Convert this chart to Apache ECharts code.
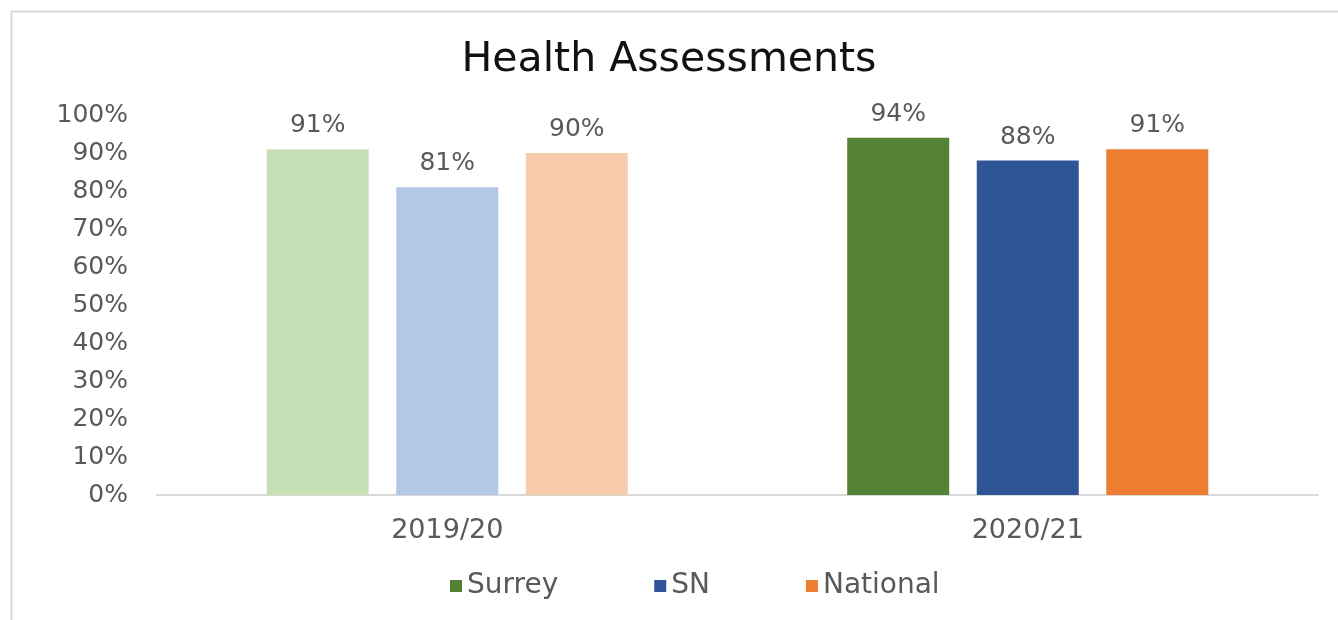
<!DOCTYPE html>
<html>
<head>
<meta charset="utf-8">
<script src="https://cdn.jsdelivr.net/npm/echarts@6/dist/echarts.min.js"></script>
<style>
  html, body { margin: 0; padding: 0; background: #fff; }
  #chart { width: 1338px; height: 620px; }
</style>
</head>
<body>
<div id="chart"></div>
<script>
// data
const categories = ['2019/20', '2020/21']
const seriesNames = ['Surrey', 'SN', 'National']
const surrey = [91, 94]
const sn = [81, 88]
const national = [90, 91]
const yTicks = [0, 10, 20, 30, 40, 50, 60, 70, 80, 90, 100]

// first year is drawn in a paler tint of each colour
const darkColors = ['#548235', '#2f5597', '#ed7d31']
const paleColors = ['#c5e0b4', '#b4c7e7', '#f8cbad']

const font = 'DejaVu Sans'
const grey = '#595959'

const chartDom = document.getElementById('chart')
const myChart = echarts.init(chartDom)

const makeSeries = (name, values, idx) => ({
  name: name,
  type: 'bar',
  barWidth: 102,
  barGap: '27%',
  itemStyle: { color: darkColors[idx] },
  label: {
    show: true,
    position: 'top',
    distance: 11,
    color: grey,
    fontFamily: font,
    fontSize: 25,
    formatter: p => p.value + '%'
  },
  data: values.map((v, i) => i === 0
    ? { value: v, itemStyle: { color: paleColors[idx] } }
    : { value: v })
})

const option = {
  animation: false,
  backgroundColor: '#fff',
  graphic: [{
    type: 'rect',
    left: 9, top: 9,
    shape: { width: 1400, height: 700 },
    style: { fill: 'none', stroke: '#d9d9d9', lineWidth: 2 }
  }],
  title: {
    text: 'Health Assessments',
    left: 'center',
    top: 35,
    textStyle: { fontFamily: font, fontSize: 41, fontWeight: 'normal', color: '#111' }
  },
  legend: {
    bottom: 15,
    left: 445,
    itemWidth: 12,
    itemHeight: 12,
    itemGap: 96,
    icon: 'rect',
    textStyle: { fontFamily: font, fontSize: 28, color: grey },
    data: seriesNames
  },
  grid: { left: 157, right: 20, top: 115, bottom: 125 },
  xAxis: {
    type: 'category',
    data: categories,
    axisLine: { lineStyle: { color: '#d9d9d9', width: 2 } },
    axisTick: { show: false },
    axisLabel: { fontFamily: font, fontSize: 27, color: grey, margin: 22 }
  },
  yAxis: {
    type: 'value',
    min: yTicks[0],
    max: yTicks[yTicks.length - 1],
    interval: 10,
    splitLine: { show: false },
    axisLine: { show: false },
    axisTick: { show: false },
    axisLabel: { fontFamily: font, fontSize: 25, color: grey, margin: 29, formatter: '{value}%' }
  },
  series: [
    makeSeries(seriesNames[0], surrey, 0),
    makeSeries(seriesNames[1], sn, 1),
    makeSeries(seriesNames[2], national, 2)
  ]
}

option && myChart.setOption(option)
</script>
</body>
</html>
